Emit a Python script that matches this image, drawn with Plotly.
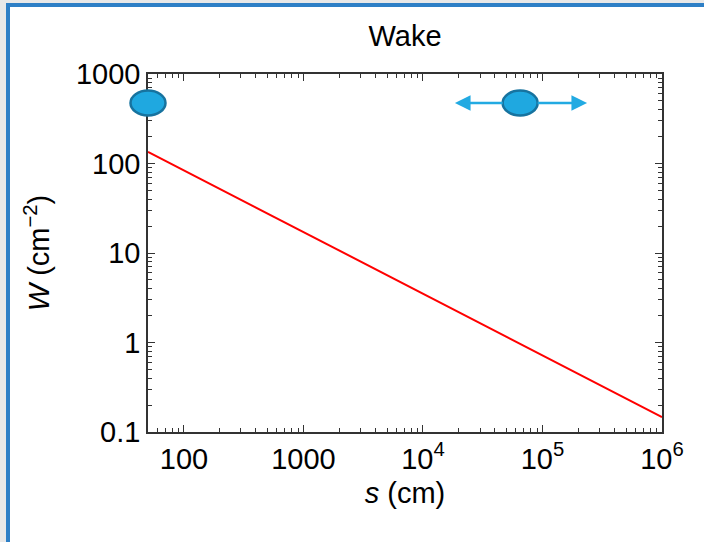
import numpy as np
import plotly.graph_objects as go

# ---- data ----
s_line = [50, 1e6]            # s (cm)
w_line = [135, 0.147]         # W (cm^-2)

dot_s = [50, 6.5e4]           # ellipse markers (s)
dot_w = [474, 474]            # ellipse markers (W)
arrow_s = [1.85e4, 2.36e5]    # arrow tips around the right marker

x_range = [50, 1e6]
y_range = [0.1, 1000]

x_tickvals = [100, 1000, 1e4, 1e5, 1e6]
x_ticktext = ["100", "1000", "10<sup>4</sup>", "10<sup>5</sup>", "10<sup>6</sup>"]
y_tickvals = [0.1, 1, 10, 100, 1000]
y_ticktext = ["0.1", "1", "10", "100", "1000"]

FONT = "Liberation Sans, Arial, Helvetica, sans-serif"
AX = "#333333"
BLUE_FILL = "#1fa8e0"
BLUE_EDGE = "#17739f"
ARROW = "#22aae2"
FRAME = "#2e7fc6"
FS = 29

def minor_vals(lo, hi):
    out = []
    for e in range(int(np.floor(np.log10(lo))), int(np.ceil(np.log10(hi))) + 1):
        for m in range(2, 10):
            v = m * 10.0 ** e
            if lo <= v <= hi:
                out.append(v)
    return out

fig = go.Figure()
fig.add_trace(go.Scatter(x=s_line, y=w_line, mode="lines",
                         line=dict(color="#ff0000", width=2), showlegend=False,
                         hoverinfo="skip"))

# layout geometry (pixels)
W, H = 704, 542
L, R, T, B = 148, 42, 74, 110
pw, ph = W - L - R, H - T - B

lx0, lx1 = np.log10(x_range[0]), np.log10(x_range[1])
ly0, ly1 = np.log10(y_range[0]), np.log10(y_range[1])

def xpaper(v):
    return (np.log10(v) - lx0) / (lx1 - lx0)

def ypaper(v):
    return (np.log10(v) - ly0) / (ly1 - ly0)

shapes = []
# slide frame
shapes.append(dict(type="rect", xref="paper", yref="paper",
                   x0=(8 - L) / pw, x1=(W + 40 - L) / pw,
                   y0=-(H + 40 - T - ph) / ph, y1=(H - B - 5) / ph,
                   fillcolor="white", line=dict(color=FRAME, width=4), layer="below"))

annotations = []
# arrows from the right marker
for tip in arrow_s:
    annotations.append(dict(x=np.log10(tip), y=np.log10(dot_w[1]), xref="x", yref="y",
                            ax=np.log10(dot_s[1]), ay=np.log10(dot_w[1]), axref="x", ayref="y",
                            showarrow=True, arrowhead=2, arrowsize=1.25, arrowwidth=2.5,
                            arrowcolor=ARROW, startstandoff=16, text=""))

# ellipse markers
for sv, wv in zip(dot_s, dot_w):
    shapes.append(dict(type="circle", xref="paper", yref="paper",
                       xsizemode="pixel", xanchor=xpaper(sv), x0=-17.5, x1=17.5,
                       ysizemode="pixel", yanchor=ypaper(wv), y0=-12.5, y1=12.5,
                       fillcolor=BLUE_FILL, line=dict(color=BLUE_EDGE, width=2.5),
                       layer="above"))

axis_common = dict(type="log", showgrid=False, zeroline=False, showline=True,
                   linecolor=AX, linewidth=1.5, mirror="ticks", ticks="inside",
                   ticklen=7, tickwidth=1.2, tickcolor=AX,
                   tickfont=dict(family=FONT, size=FS, color="black"),
                   tickmode="array")

fig.update_layout(
    width=W, height=H,
    margin=dict(l=L, r=R, t=T, b=B),
    paper_bgcolor="#e8e8e8", plot_bgcolor="rgba(0,0,0,0)",
    title=dict(text="Wake", x=(L + pw / 2) / W, xanchor="center", y=1 - 36 / H,
               yanchor="middle", font=dict(family=FONT, size=FS, color="black")),
    xaxis=dict(**axis_common, range=[lx0, lx1], tickvals=x_tickvals, ticktext=x_ticktext,
               minor=dict(tickmode="array", tickvals=minor_vals(*x_range), ticks="inside",
                          ticklen=4, tickcolor=AX, tickwidth=1),
               title=dict(text="<i>s</i> (cm)", standoff=9,
                          font=dict(family=FONT, size=FS, color="black"))),
    yaxis=dict(**axis_common, range=[ly0, ly1],
               tickvals=y_tickvals, ticktext=y_ticktext,
               minor=dict(tickmode="array", tickvals=minor_vals(*y_range), ticks="inside",
                          ticklen=4, tickcolor=AX, tickwidth=1),
               title=dict(text="<i>W</i> (cm<sup>−2</sup>)", standoff=18,
                          font=dict(family=FONT, size=FS, color="black"))),
    shapes=shapes, annotations=annotations,
)

fig.write_html("out.html")
